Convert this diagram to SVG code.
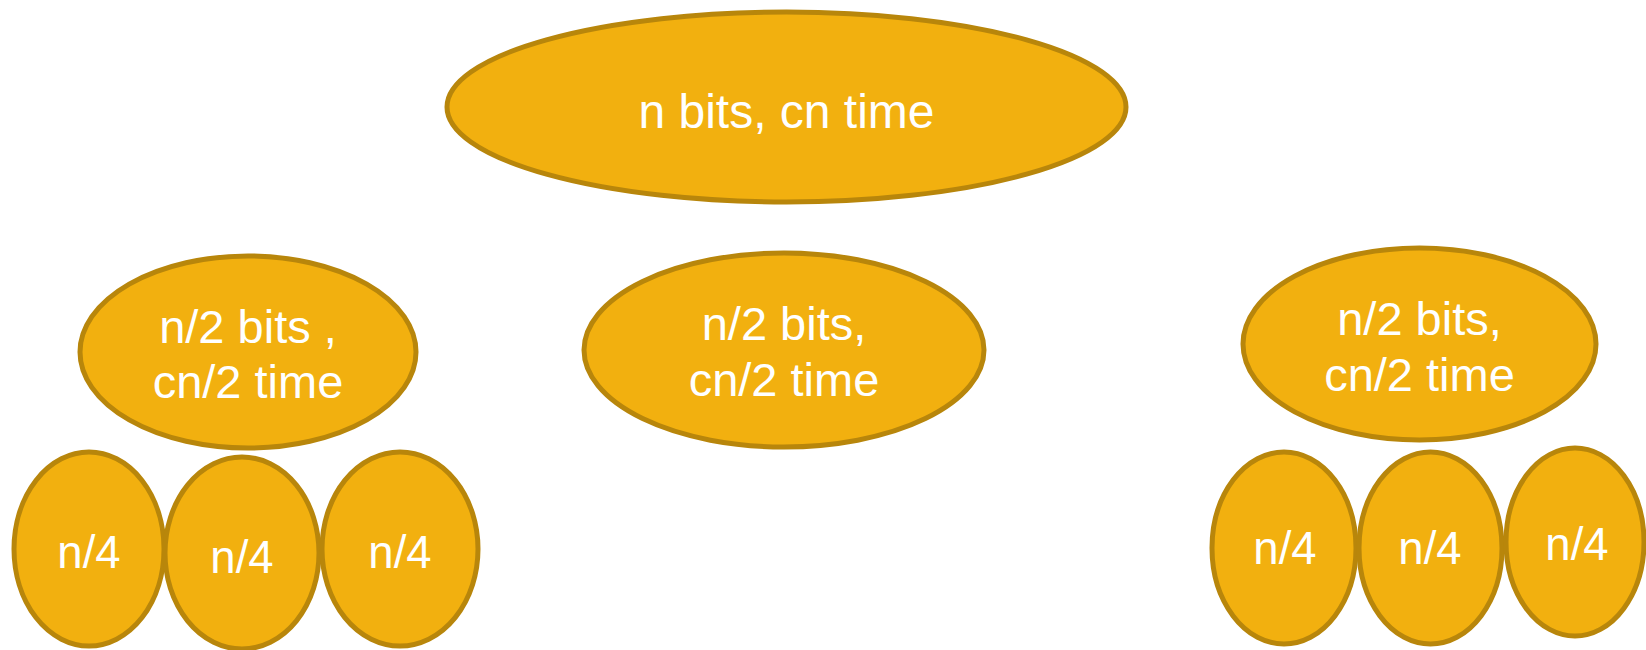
<svg xmlns="http://www.w3.org/2000/svg" width="1646" height="650" viewBox="0 0 1646 650">
<style>
.n{fill:#F2B00F;stroke:#B8860B;stroke-width:5}
.t{fill:#FFFFFF;font-family:"Liberation Sans",Arial,sans-serif;font-size:47px;text-anchor:middle}
.s{fill:#FFFFFF;font-family:"Liberation Sans",Arial,sans-serif;font-size:45.5px;text-anchor:middle}
</style>
<rect width="1646" height="650" fill="#FFFFFF"/>
<g id="connectors"></g>
<g id="root">
<ellipse class="n" cx="786.5" cy="107" rx="339.5" ry="95"/>
<text class="t" x="786.5" y="128" style="font-size:48px">n bits, cn time</text>
</g>
<g id="left-half">
<ellipse class="n" cx="248" cy="352" rx="168" ry="96"/>
<text class="t" x="248" y="343">n/2 bits ,</text>
<text class="t" x="248" y="398">cn/2 time</text>
</g>
<g id="middle-half">
<ellipse class="n" cx="784" cy="350" rx="200" ry="97"/>
<text class="t" x="784" y="340">n/2 bits,</text>
<text class="t" x="784" y="396">cn/2 time</text>
</g>
<g id="right-half">
<ellipse class="n" cx="1419.5" cy="344" rx="176.5" ry="96"/>
<text class="t" x="1419.5" y="335">n/2 bits,</text>
<text class="t" x="1419.5" y="391">cn/2 time</text>
</g>
<g id="left-q1">
<ellipse class="n" cx="89" cy="549" rx="75" ry="97"/>
<text class="s" x="89" y="568">n/4</text>
</g>
<g id="left-q2">
<ellipse class="n" cx="242" cy="553" rx="77" ry="96"/>
<text class="s" x="242" y="573">n/4</text>
</g>
<g id="left-q3">
<ellipse class="n" cx="400" cy="549" rx="78" ry="97"/>
<text class="s" x="400" y="568">n/4</text>
</g>
<g id="right-q1">
<ellipse class="n" cx="1284" cy="548" rx="72" ry="96"/>
<text class="s" x="1285" y="564">n/4</text>
</g>
<g id="right-q2">
<ellipse class="n" cx="1430.5" cy="548" rx="71.5" ry="96"/>
<text class="s" x="1430" y="564">n/4</text>
</g>
<g id="right-q3">
<ellipse class="n" cx="1575" cy="542" rx="69" ry="94"/>
<text class="s" x="1577" y="560">n/4</text>
</g>
</svg>
